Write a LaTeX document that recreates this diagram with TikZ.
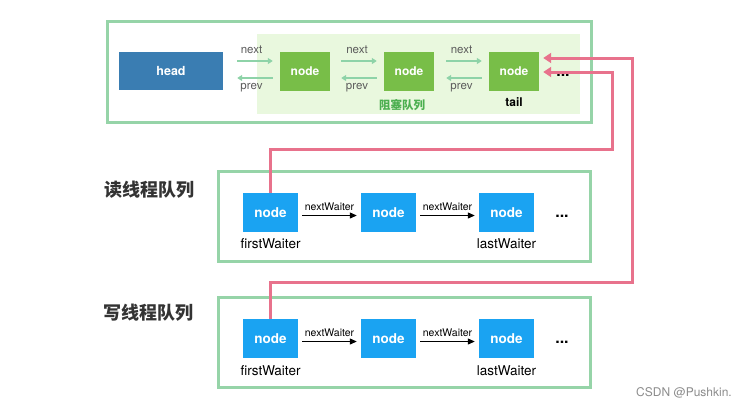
\documentclass[tikz,border=0pt]{standalone}
\usepackage{fontspec}
\setmainfont{TeX Gyre Heros}
\newfontfamily\cjk{Noto Sans CJK SC}
\usetikzlibrary{arrows.meta}
\definecolor{frameg}{HTML}{96D4A8}
\definecolor{blockbg}{HTML}{E9F8DE}
\definecolor{gnode}{HTML}{78BE48}
\definecolor{headc}{HTML}{3A7DB2}
\definecolor{bnode}{HTML}{1AA3F2}
\definecolor{arrg}{HTML}{8ED3A8}
\definecolor{pinkc}{HTML}{E8728C}
\definecolor{txtg}{HTML}{4CAF50}
\definecolor{dark}{HTML}{333333}
\tikzset{
  frame/.style={draw=frameg, line width=3pt, inner sep=0pt},
  gbox/.style={fill=gnode, text=white, font=\bfseries\fontsize{12}{13}\selectfont, minimum width=50pt, minimum height=39pt, inner sep=0pt},
  bbox/.style={fill=bnode, text=white, font=\bfseries\fontsize{13.5}{14}\selectfont, minimum width=55pt, minimum height=39pt, inner sep=0pt},
  garr/.style={draw=arrg, line width=2pt, -{Triangle[width=6pt,length=5pt]}},
  barr/.style={draw=black, line width=1.1pt, -{Triangle[width=6pt,length=7pt]}},
  parr/.style={draw=pinkc, line width=3pt, -{Triangle[width=10pt,length=8pt]}},
  lbl/.style={font=\fontsize{11.5}{12}\selectfont, text=dark!80, inner sep=0pt},
  wlbl/.style={font=\fontsize{10.5}{12}\selectfont, text=black, inner sep=0pt},
  slbl/.style={font=\fontsize{13.5}{14}\selectfont, text=black, inner sep=0pt},
  title/.style={font=\cjk\bfseries\fontsize{18}{20}\selectfont, text=dark, inner sep=0pt},
  dots/.style={font=\bfseries\fontsize{16}{16}\selectfont, inner sep=0pt},
}
\begin{document}
\begin{tikzpicture}[x=1pt,y=-1pt]
\useasboundingbox[fill=white] (0,0) rectangle (749,408);
% top frame
\node[frame, minimum width=484pt, minimum height=101pt] (topf) at (349,71.5) {};
\node[fill=blockbg, minimum width=323pt, minimum height=80pt, inner sep=0pt] (blk) at (418.5,74) {};
\node[fill=headc, text=white, font=\bfseries\fontsize{12.5}{13}\selectfont, minimum width=104pt, minimum height=38pt, inner sep=0pt] (head) at (171,71) {head};
\node[gbox] (g1) at (305,71) {node};
\node[gbox] (g2) at (409,71) {node};
\node[gbox] (g3) at (514,71) {node};
\node[font=\bfseries\fontsize{12}{12}\selectfont, inner sep=0pt] (tail) at (514,102) {tail};
\node[font=\cjk\bfseries\fontsize{11.5}{12}\selectfont, text=txtg, inner sep=0pt] (blkl) at (402,105) {阻塞队列};
\node[dots] (d0) at (563,75) {...};
% next / prev arrows
\foreach \a/\b/\s/\n in {head/g1/14/a, g1/g2/11/b, g2/g3/12/c}{
  \draw[garr, shorten <=\s pt, shorten >=7pt] ([yshift=10pt]\a.east) -- ([yshift=10pt]\b.west) coordinate[midway] (nx\n);
  \draw[garr, shorten >=\s pt, shorten <=7pt] ([yshift=-7pt]\b.west) -- ([yshift=-7pt]\a.east) coordinate[midway] (pv\n);
  \node[lbl] at ([yshift=11pt]nx\n) {next};
  \node[lbl] at ([yshift=-10pt]pv\n) {prev};
}
% read queue
\node[title] (rt) at (149,190) {读线程队列};
\node[frame, minimum width=372pt, minimum height=90pt] (rf) at (404,216) {};
\node[bbox] (r1) at (270.5,212.5) {node};
\node[bbox] (r2) at (388.5,212.5) {node};
\node[bbox] (r3) at (506.5,212.5) {node};
\draw[barr, shorten <=4pt, shorten >=4pt] ([yshift=-3pt]r1.east) -- ([yshift=-3pt]r2.west) coordinate[midway] (ra);
\draw[barr, shorten <=4pt, shorten >=4pt] ([yshift=-3pt]r2.east) -- ([yshift=-3pt]r3.west) coordinate[midway] (rb);
\node[wlbl] at ([yshift=9pt]ra) {nextWaiter};
\node[wlbl] at ([yshift=9pt]rb) {nextWaiter};
\node[slbl] at (270.5,244) {firstWaiter};
\node[slbl] at (506.5,244) {lastWaiter};
\node[dots] (d1) at (562,216) {...};
% write queue
\node[title] (wt) at (148,313) {写线程队列};
\node[frame, minimum width=372pt, minimum height=90pt] (wf) at (404,342) {};
\node[bbox] (w1) at (270.5,338.5) {node};
\node[bbox] (w2) at (388.5,338.5) {node};
\node[bbox] (w3) at (506.5,338.5) {node};
\draw[barr, shorten <=4pt, shorten >=4pt] ([yshift=-3pt]w1.east) -- ([yshift=-3pt]w2.west) coordinate[midway] (wa);
\draw[barr, shorten <=4pt, shorten >=4pt] ([yshift=-3pt]w2.east) -- ([yshift=-3pt]w3.west) coordinate[midway] (wb);
\node[wlbl] at ([yshift=9pt]wa) {nextWaiter};
\node[wlbl] at ([yshift=9pt]wb) {nextWaiter};
\node[slbl] at (270.5,371) {firstWaiter};
\node[slbl] at (506.5,371) {lastWaiter};
\node[dots] (d2) at (562,342) {...};
% pink links
\coordinate (rc) at (612,149);
\coordinate (wc) at (632,282);
\draw[parr] (r1.north) |- (rc) |- ([xshift=4pt,yshift=-1pt]g3.east);
\draw[parr] (w1.north) |- (wc) |- ([xshift=4pt,yshift=13pt]g3.east);
% watermark
\node[font=\fontsize{12}{12}\selectfont, text=black!45, inner sep=0pt] (wm) at (684,393) {CSDN @Pushkin.};
\end{tikzpicture}
\end{document}
